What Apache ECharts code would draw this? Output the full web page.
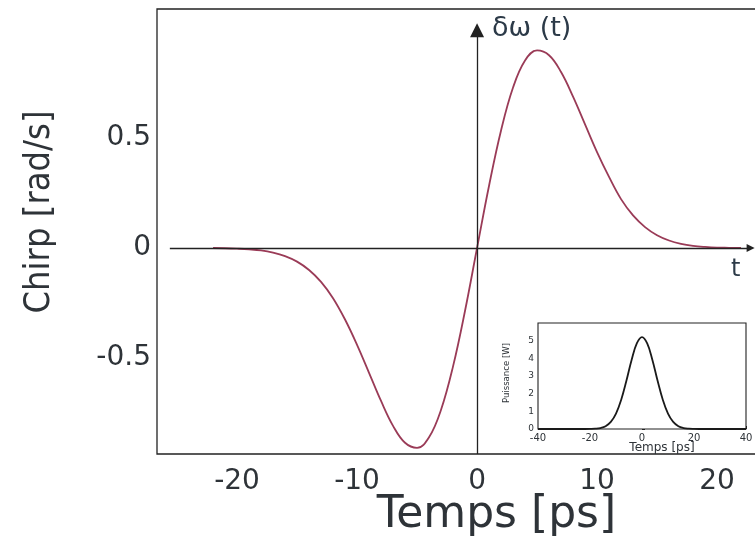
<!DOCTYPE html>
<html>
<head>
<meta charset="utf-8">
<script src="https://cdn.jsdelivr.net/npm/echarts@6/dist/echarts.min.js"></script>
<style>
html,body{margin:0;padding:0;background:#fff;}
#chart{width:755px;height:536px;}
</style>
</head>
<body>
<div id="chart"></div>
<script>
// Main chart: chirp vs time
var chirpTime = [-22,-21,-20,-19,-18,-17,-16,-15,-14,-13,-12,-11,-10,-9,-8,-7,-6,-5,-4,-3,-2,-1,0,1,2,3,4,5,6,7,8,9,10,11,12,13,14,15,16,17,18,19,20,21,22];
var chirpValues = [0,-0.001,-0.003,-0.006,-0.011,-0.021,-0.037,-0.062,-0.100,-0.154,-0.228,-0.325,-0.440,-0.567,-0.695,-0.808,-0.885,-0.908,-0.860,-0.735,-0.538,-0.285,0,0.283,0.534,0.729,0.852,0.898,0.876,0.800,0.688,0.562,0.436,0.323,0.222,0.148,0.095,0.058,0.034,0.019,0.010,0.005,0.002,0.001,0];
var mainXTicks = [-20,-10,0,10,20];
var mainYTicks = [-0.5,0,0.5];

// Inset: power vs time
var powerTime = [-40,-38,-36,-34,-32,-30,-28,-26,-24,-22,-20,-18,-16,-14,-12,-10,-8,-6,-4,-2,0,2,4,6,8,10,12,14,16,18,20,22,24,26,28,30,32,34,36,38,40];
var powerValues = [0,0,0,0,0,0,0,0,0,0,0.004,0.016,0.054,0.157,0.40,0.87,1.66,2.73,3.91,4.84,5.2,4.84,3.91,2.73,1.66,0.87,0.40,0.157,0.054,0.016,0.004,0,0,0,0,0,0,0,0,0,0];

var chirpData = chirpTime.map(function(t,i){return [t, chirpValues[i]];});
var powerData = powerTime.map(function(t,i){return [t, powerValues[i]];});

var textColor = '#2e3338';
var chart = echarts.init(document.getElementById('chart'), null, {renderer:'canvas'});
var option = {
  backgroundColor: '#fff',
  animation: false,
  grid: [
    {left:157, top:9, right:-5, bottom:82, show:true, borderColor:'#222', borderWidth:1.3, backgroundColor:'transparent', outerBoundsMode:'none', containLabel:false},
    {left:538, top:323, width:208, height:106, show:true, borderColor:'#222', borderWidth:1.1, backgroundColor:'#fff', z:5, outerBoundsMode:'none', containLabel:false}
  ],
  xAxis: [
    {
      type:'value', gridIndex:0, min:-26.67, max:23.58,
      axisLine:{show:false}, axisTick:{show:false}, splitLine:{show:false},
      axisLabel:{customValues: mainXTicks, fontFamily:'DejaVu Sans', fontSize:28, color:textColor, margin:14, hideOverlap:false},
      name:'Temps [ps]', nameLocation:'middle', nameGap:40, nameMoveOverlap:false,
      nameTextStyle:{fontFamily:'DejaVu Sans', fontSize:44, color:textColor, padding:[0,0,0,76]}
    },
    {
      type:'value', gridIndex:1, min:-40, max:40, interval:20,
      axisLine:{show:false}, axisTick:{show:true, inside:true, length:3, lineStyle:{color:'#222'}}, splitLine:{show:false},
      axisLabel:{fontFamily:'DejaVu Sans', fontSize:10, color:textColor, margin:4},
      name:'Temps [ps]', nameLocation:'middle', nameGap:13, nameMoveOverlap:false,
      nameTextStyle:{fontFamily:'DejaVu Sans', fontSize:12, color:textColor, padding:[0,0,0,40]}
    }
  ],
  yAxis: [
    {
      type:'value', gridIndex:0, min:-0.936, max:1.086,
      axisLine:{show:false}, axisTick:{show:false}, splitLine:{show:false},
      axisLabel:{customValues: mainYTicks, fontFamily:'DejaVu Sans', fontSize:28, color:textColor, margin:6, hideOverlap:false},
      name:'Chirp [rad/s]', nameLocation:'middle', nameRotate:90, nameGap:99, nameMoveOverlap:false,
      nameTextStyle:{fontFamily:"'DejaVu Sans Condensed','Liberation Sans Narrow',sans-serif", fontSize:36, color:textColor, padding:[0,0,0,39]}
    },
    {
      type:'value', gridIndex:1, min:0, max:6, interval:1,
      axisLine:{show:false}, axisTick:{show:true, inside:true, length:3, lineStyle:{color:'#222'}}, splitLine:{show:false},
      axisLabel:{fontFamily:'DejaVu Sans', fontSize:9, color:textColor, margin:4, showMaxLabel:false},
      name:'Puissance [W]', nameLocation:'middle', nameRotate:90, nameGap:26, nameMoveOverlap:false,
      nameTextStyle:{fontFamily:"'DejaVu Sans Condensed','Liberation Sans Narrow',sans-serif", fontSize:9.5, color:textColor, padding:[0,0,0,6]}
    }
  ],
  series: [
    {
      type:'line', xAxisIndex:0, yAxisIndex:0, data:chirpData, smooth:0.4, showSymbol:false,
      lineStyle:{color:'#9a3b57', width:1.8}, silent:true, z:3,
      markLine:{
        silent:true, animation:false,
        symbol:['none','triangle'], symbolSize:[0,12],
        label:{show:false},
        lineStyle:{color:'#222', width:1.3, type:'solid'},
        emphasis:{disabled:true},
        data:[
          [{coord:[0,-0.936], symbol:'none'},{coord:[0,0.99], symbol:'triangle', symbolSize:14}],
          [{coord:[-25.6,0], symbol:'none'},{coord:[22.8,0], symbol:'triangle', symbolSize:8}]
        ]
      }
    },
    {
      type:'line', xAxisIndex:1, yAxisIndex:1, data:powerData, smooth:0.4, showSymbol:false,
      lineStyle:{color:'#1a1a1a', width:1.8}, silent:true, z:6
    }
  ],
  graphic: [
    {type:'text', left:492, top:15, z:10, style:{text:'δω (t)', fontFamily:'DejaVu Sans', fontSize:27, fill:'#2c3a48'}},
    {type:'text', left:731, top:258, z:10, style:{text:'t', fontFamily:'DejaVu Sans', fontSize:24, fill:'#2c3a48'}}
  ]
};
chart.setOption(option);
</script>
</body>
</html>
